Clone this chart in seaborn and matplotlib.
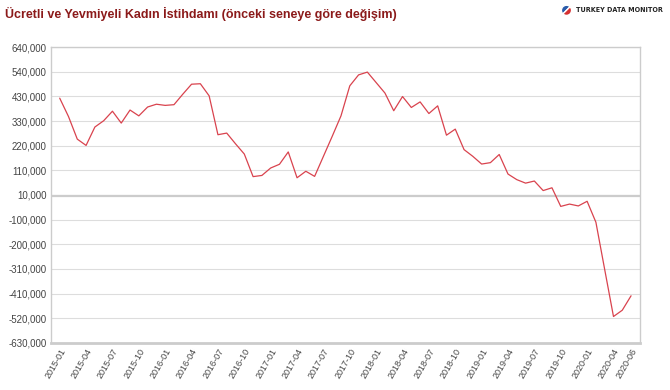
import numpy as np
import pandas as pd
import matplotlib
matplotlib.use("Agg")
import matplotlib.pyplot as plt
import seaborn as sns

# monthly, 2015-01 .. 2020-06, year-on-year change
months = pd.period_range("2015-01", "2020-06", freq="M").strftime("%Y-%m").tolist()
values = [
    421000, 342000, 245000, 218000, 297000, 324000, 365000, 314000, 370000, 345000,
    383000, 395000, 390000, 393000, 438000, 481000, 483000, 431000, 264000, 271000,
    225000, 181000, 84000, 89000, 121000, 137000, 190000, 79000, 107000, 85000,
    171000, 257000, 345000, 474000, 521000, 533000, 488000, 443000, 367000, 428000,
    381000, 405000, 355000, 388000, 262000, 288000, 200000, 171000, 138000, 144000,
    179000, 95000, 71000, 56000, 65000, 24000, 36000, -44000, -34000, -42000,
    -22000, -112000, -315000, -517000, -490000, -428000,
]
ytick_labels = ["640,000", "540,000", "430,000", "330,000", "220,000", "110,000", "10,000",
                "-100,000", "-200,000", "-310,000", "-410,000", "-520,000", "-630,000"]

df = pd.DataFrame({"month": months, "value": values, "idx": range(len(months))})

sns.set_style("white")
plt.rcParams["font.family"] = ["Liberation Sans", "DejaVu Sans"]

fig = plt.figure(figsize=(6.7, 3.9), dpi=100)
ax = fig.add_axes([0.076, 0.121, 0.879, 0.758])

yticks = np.linspace(640000, -630000, 13)
for y in yticks:
    ax.axhline(y, color="#dddddd", lw=0.8, zorder=0)
ax.axhline(0, color="#cccccc", lw=1.6, zorder=0)

sns.lineplot(data=df, x="idx", y="value", color="#d9434e", lw=0.9, ax=ax)

ax.set_ylim(-630000, 640000)
ax.set_xlim(-1.0, len(months) - 0.0)
ax.set_yticks(yticks)
ax.set_yticklabels(ytick_labels, fontsize=7, color="#444444")
xt = list(range(0, len(months), 3)) + [len(months) - 1]
ax.set_xticks(xt)
ax.set_xticklabels([months[i] for i in xt], rotation=60, ha="right",
                   rotation_mode="anchor", fontsize=6.5, color="#444444")
ax.tick_params(axis="both", length=0, pad=3)
ax.set_xlabel("")
ax.set_ylabel("")
for s in ["left", "right", "top"]:
    ax.spines[s].set_color("#cccccc")
    ax.spines[s].set_linewidth(1.0)
ax.spines["bottom"].set_color("#cccccc")
ax.spines["bottom"].set_linewidth(2.0)

fig.text(0.007, 0.965, "Ücretli ve Yevmiyeli Kadın İstihdamı (önceki seneye göre değişim)",
         fontsize=9, fontweight="bold", color="#8b1a1a", va="center", ha="left")
fig.text(0.99, 0.974, "TURKEY DATA MONITOR", fontsize=5.1, fontweight="bold",
         family="DejaVu Sans", fontstretch="condensed",
         color="#222222", va="center", ha="right")
logo = fig.add_axes([0.836, 0.957, 0.019, 0.033])
logo.pie([1, 1], colors=["#2a5caa", "#d63031"], startangle=45)
logo.set_aspect("equal")

fig.savefig("out.png", dpi=100, facecolor="white")
